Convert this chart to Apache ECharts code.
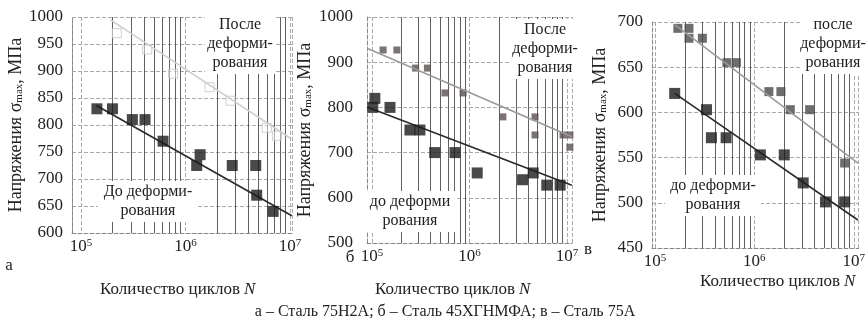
<!DOCTYPE html>
<html>
<head>
<meta charset="utf-8">
<script src="https://cdn.jsdelivr.net/npm/echarts@6/dist/echarts.min.js"></script>
<style>
html, body { margin: 0; background: #fff; }
#chart { width: 868px; height: 324px; }
</style>
</head>
<body>
<div id="chart"></div>
<script>
// а – Сталь 75Н2А
const aBeforeN = [1.42e5, 2.0e5, 3.1e5, 4.1e5, 6.1e5, 1.38e6, 1.28e6, 2.8e6, 4.7e6, 4.8e6, 6.9e6];
const aBeforeS = [830, 830, 810, 810, 770, 745, 725, 725, 725, 670, 640];
const aAfterN = [2.2e5, 4.3e5, 7.6e5, 1.7e6, 2.7e6, 6.0e6, 7.5e6];
const aAfterS = [970, 940, 895, 870, 845, 795, 780];
const aBeforeFitN = [1.4e5, 1.04e7];
const aBeforeFitS = [836, 632];
const aAfterFitN = [1.9e5, 1.0e7];
const aAfterFitS = [995, 776];

// б – Сталь 45ХГНМФА
const bBeforeN = [1.07e5, 1.02e5, 1.53e5, 2.45e5, 3.1e5, 4.4e5, 7.1e5, 1.2e6, 3.5e6, 4.5e6, 6.2e6, 8.5e6];
const bBeforeS = [820, 800, 800, 750, 750, 700, 700, 655, 640, 655, 628, 628];
const bAfterN = [1.3e5, 1.8e5, 2.8e5, 3.7e5, 5.6e5, 8.6e5, 2.2e6, 4.7e6, 4.7e6, 9.1e6, 1.07e7, 1.07e7];
const bAfterS = [927, 927, 887, 887, 832, 832, 779, 779, 739, 739, 739, 712];
const bBeforeFitN = [8.9e4, 1.12e7];
const bBeforeFitS = [801, 628];
const bAfterFitN = [8.9e4, 1.12e7];
const bAfterFitS = [931, 735];

// в – Сталь 75А
const cBeforeN = [1.58e5, 3.3e5, 3.7e5, 5.2e5, 1.15e6, 2.0e6, 3.1e6, 5.2e6, 8.1e6];
const cBeforeS = [621, 603, 572, 572, 553, 553, 522, 501, 501];
const cAfterN = [1.7e5, 2.2e5, 2.2e5, 3.0e5, 5.3e5, 6.6e5, 1.4e6, 1.85e6, 2.3e6, 3.6e6, 8.1e6];
const cAfterS = [693, 693, 682, 682, 655, 655, 623, 623, 603, 603, 544];
const cBeforeFitN = [1.58e5, 1.1e7];
const cBeforeFitS = [621, 481];
const cAfterFitN = [1.58e5, 1.1e7];
const cAfterFitS = [697, 544];

// вертикальная сетка 2..9 x 10^n
const gridN = [2e5, 3e5, 4e5, 5e5, 6e5, 7e5, 8e5, 9e5, 2e6, 3e6, 4e6, 5e6, 6e6, 7e6, 8e6, 9e6];

const FONT = 'Liberation Serif';
const chart = echarts.init(document.getElementById('chart'));

function pairs(xs, ys) {
  return xs.map((x, i) => [x, ys[i]]);
}

function xAxisOf(idx, min, max) {
  return {
    type: 'log', gridIndex: idx, min: min, max: max, logBase: 10,
    axisTick: { show: false },
    axisLine: { show: true, lineStyle: { color: '#888', type: 'dashed' } },
    splitLine: { show: true, lineStyle: { color: '#aaa', type: 'dashed' } },
    axisLabel: {
      margin: 5,
      showMinLabel: false,
      fontFamily: FONT,
      formatter: (v) => {
        const e = Math.log10(v);
        const r = Math.round(e);
        return Math.abs(e - r) < 1e-6 ? '{b|10}{s|' + r + '}' : '';
      },
      rich: {
        b: { fontFamily: FONT, fontSize: 17, color: '#222' },
        s: { fontFamily: FONT, fontSize: 11, color: '#222', verticalAlign: 'top', lineHeight: 12 }
      }
    }
  };
}

function yAxisOf(idx, min, max, step, gap, margin) {
  return {
    type: 'value', gridIndex: idx, min: min, max: max, interval: step,
    name: '{t|Напряжения σ}{s|max}{t|, МПа}',
    nameLocation: 'middle', nameRotate: 90, nameGap: gap,
    nameTextStyle: {
      fontFamily: FONT, fontSize: 18, color: '#222',
      rich: {
        t: { fontFamily: FONT, fontSize: 18, color: '#222' },
        s: { fontFamily: FONT, fontSize: 11, color: '#222', verticalAlign: 'bottom', lineHeight: 10 }
      }
    },
    axisTick: { show: false },
    axisLine: { show: true, lineStyle: { color: '#888', type: 'dashed' } },
    splitLine: { show: true, lineStyle: { color: '#aaa', type: 'dashed' } },
    axisLabel: { fontFamily: FONT, fontSize: 17, color: '#222', margin: margin, formatter: (v) => String(v) }
  };
}

function panelSeries(idx, bN, bS, aN, aS, bfN, bfS, afN, afS, afterStyle, afterArrow) {
  return [
    {
      type: 'scatter', xAxisIndex: idx, yAxisIndex: idx,
      data: pairs(aN, aS), symbol: 'rect', symbolSize: afterStyle.size,
      itemStyle: afterStyle.item, z: 4
    },
    {
      type: 'scatter', xAxisIndex: idx, yAxisIndex: idx,
      data: pairs(bN, bS), symbol: 'rect', symbolSize: 11,
      itemStyle: { color: '#1b1b1b' }, z: 5,
      markLine: {
        silent: true, symbol: 'none', label: { show: false }, z: 1,
        lineStyle: { color: '#3a3a3a', width: 1, type: 'solid', opacity: 0.8 },
        data: gridN.map((n) => ({ xAxis: n }))
      }
    },
    {
      type: 'scatter', xAxisIndex: idx, yAxisIndex: idx, data: [], z: 3,
      markLine: {
        silent: true, symbol: ['none', 'arrow'], symbolSize: [0, 11], label: { show: false },
        lineStyle: { color: '#2a2a2a', width: 1.6, type: 'solid' },
        data: [[{ coord: [bfN[0], bfS[0]] }, { coord: [bfN[1], bfS[1]] }]]
      }
    },
    {
      type: 'scatter', xAxisIndex: idx, yAxisIndex: idx, data: [], z: 3,
      markLine: {
        silent: true, symbol: ['none', afterArrow ? 'arrow' : 'none'], symbolSize: [0, 10],
        label: { show: false },
        lineStyle: { color: afterStyle.line, width: 1.6, type: 'solid' },
        data: [[{ coord: [afN[0], afS[0]] }, { coord: [afN[1], afS[1]] }]]
      }
    }
  ];
}

function plain(x, y, text, size, extra) {
  return {
    type: 'text', x: x, y: y, z: 50,
    style: Object.assign({
      text: text, fontFamily: FONT, fontSize: size, fill: '#222',
      align: 'center', verticalAlign: 'middle'
    }, extra || {})
  };
}

// надпись в белом прямоугольнике, по строке на элемент
function note(x, y, lines, w) {
  const out = [{
    type: 'rect', z: 49,
    shape: { x: x - w / 2, y: y - 11, width: w, height: lines.length * 19 + 3 },
    style: { fill: '#fff' }
  }];
  lines.forEach((t, i) => out.push(plain(x, y + i * 19, t, 16)));
  return out;
}

// подпись оси X: x – точка стыка текста и курсивной N
function title(x, y) {
  return [
    plain(x, y, 'Количество циклов', 17, { align: 'right' }),
    plain(x + 4, y, 'N', 17, { align: 'left', fontStyle: 'italic' })
  ];
}

const option = {
  animation: false,
  backgroundColor: '#fff',
  grid: [
    { left: 72, top: 17, width: 220, height: 216 },
    { left: 367, top: 17, width: 205, height: 226 },
    { left: 652, top: 22, width: 210, height: 226 }
  ],
  xAxis: [
    xAxisOf(0, 82000, 1.045e7),
    xAxisOf(1, 88900, 1.125e7),
    xAxisOf(2, 93400, 1.12e7)
  ],
  yAxis: [
    yAxisOf(0, 600, 1000, 50, 45, 9),
    yAxisOf(1, 500, 1000, 100, 53, 14),
    yAxisOf(2, 450, 700, 50, 43, 9)
  ],
  series: [].concat(
    panelSeries(0, aBeforeN, aBeforeS, aAfterN, aAfterS, aBeforeFitN, aBeforeFitS, aAfterFitN, aAfterFitS,
      { size: 9, item: { color: 'rgba(255,255,255,0.6)', borderColor: '#c4c4c4', borderWidth: 1 }, line: '#cfcfcf' }, false),
    panelSeries(1, bBeforeN, bBeforeS, bAfterN, bAfterS, bBeforeFitN, bBeforeFitS, bAfterFitN, bAfterFitS,
      { size: 7, item: { color: '#5a4f4f' }, line: '#9a9a9a' }, false),
    panelSeries(2, cBeforeN, cBeforeS, cAfterN, cAfterS, cBeforeFitN, cBeforeFitS, cAfterFitN, cAfterFitS,
      { size: 9, item: { color: '#4a4a4a' }, line: '#9a9a9a' }, true)
  ),
  graphic: [].concat(
    note(240, 25, ['После', 'деформи-', 'рования'], 70),
    note(148, 192, ['До деформи-', 'рования'], 100),
    note(545, 30, ['После', 'деформи-', 'рования'], 70),
    note(410, 202, ['до деформи', 'рования'], 90),
    note(833, 25, ['после', 'деформи-', 'рования'], 66),
    note(713, 186, ['до деформи-', 'рования'], 96),
    [
      plain(9, 266, 'а', 17),
      plain(350, 258, 'б', 17),
      plain(588, 250, 'в', 17),
      plain(445, 312, 'а – Сталь 75Н2А; б – Сталь 45ХГНМФА; в – Сталь 75А', 16)
    ],
    title(240, 290),
    title(515, 290),
    title(840, 282)
  )
};

chart.setOption(option);
</script>
</body>
</html>
